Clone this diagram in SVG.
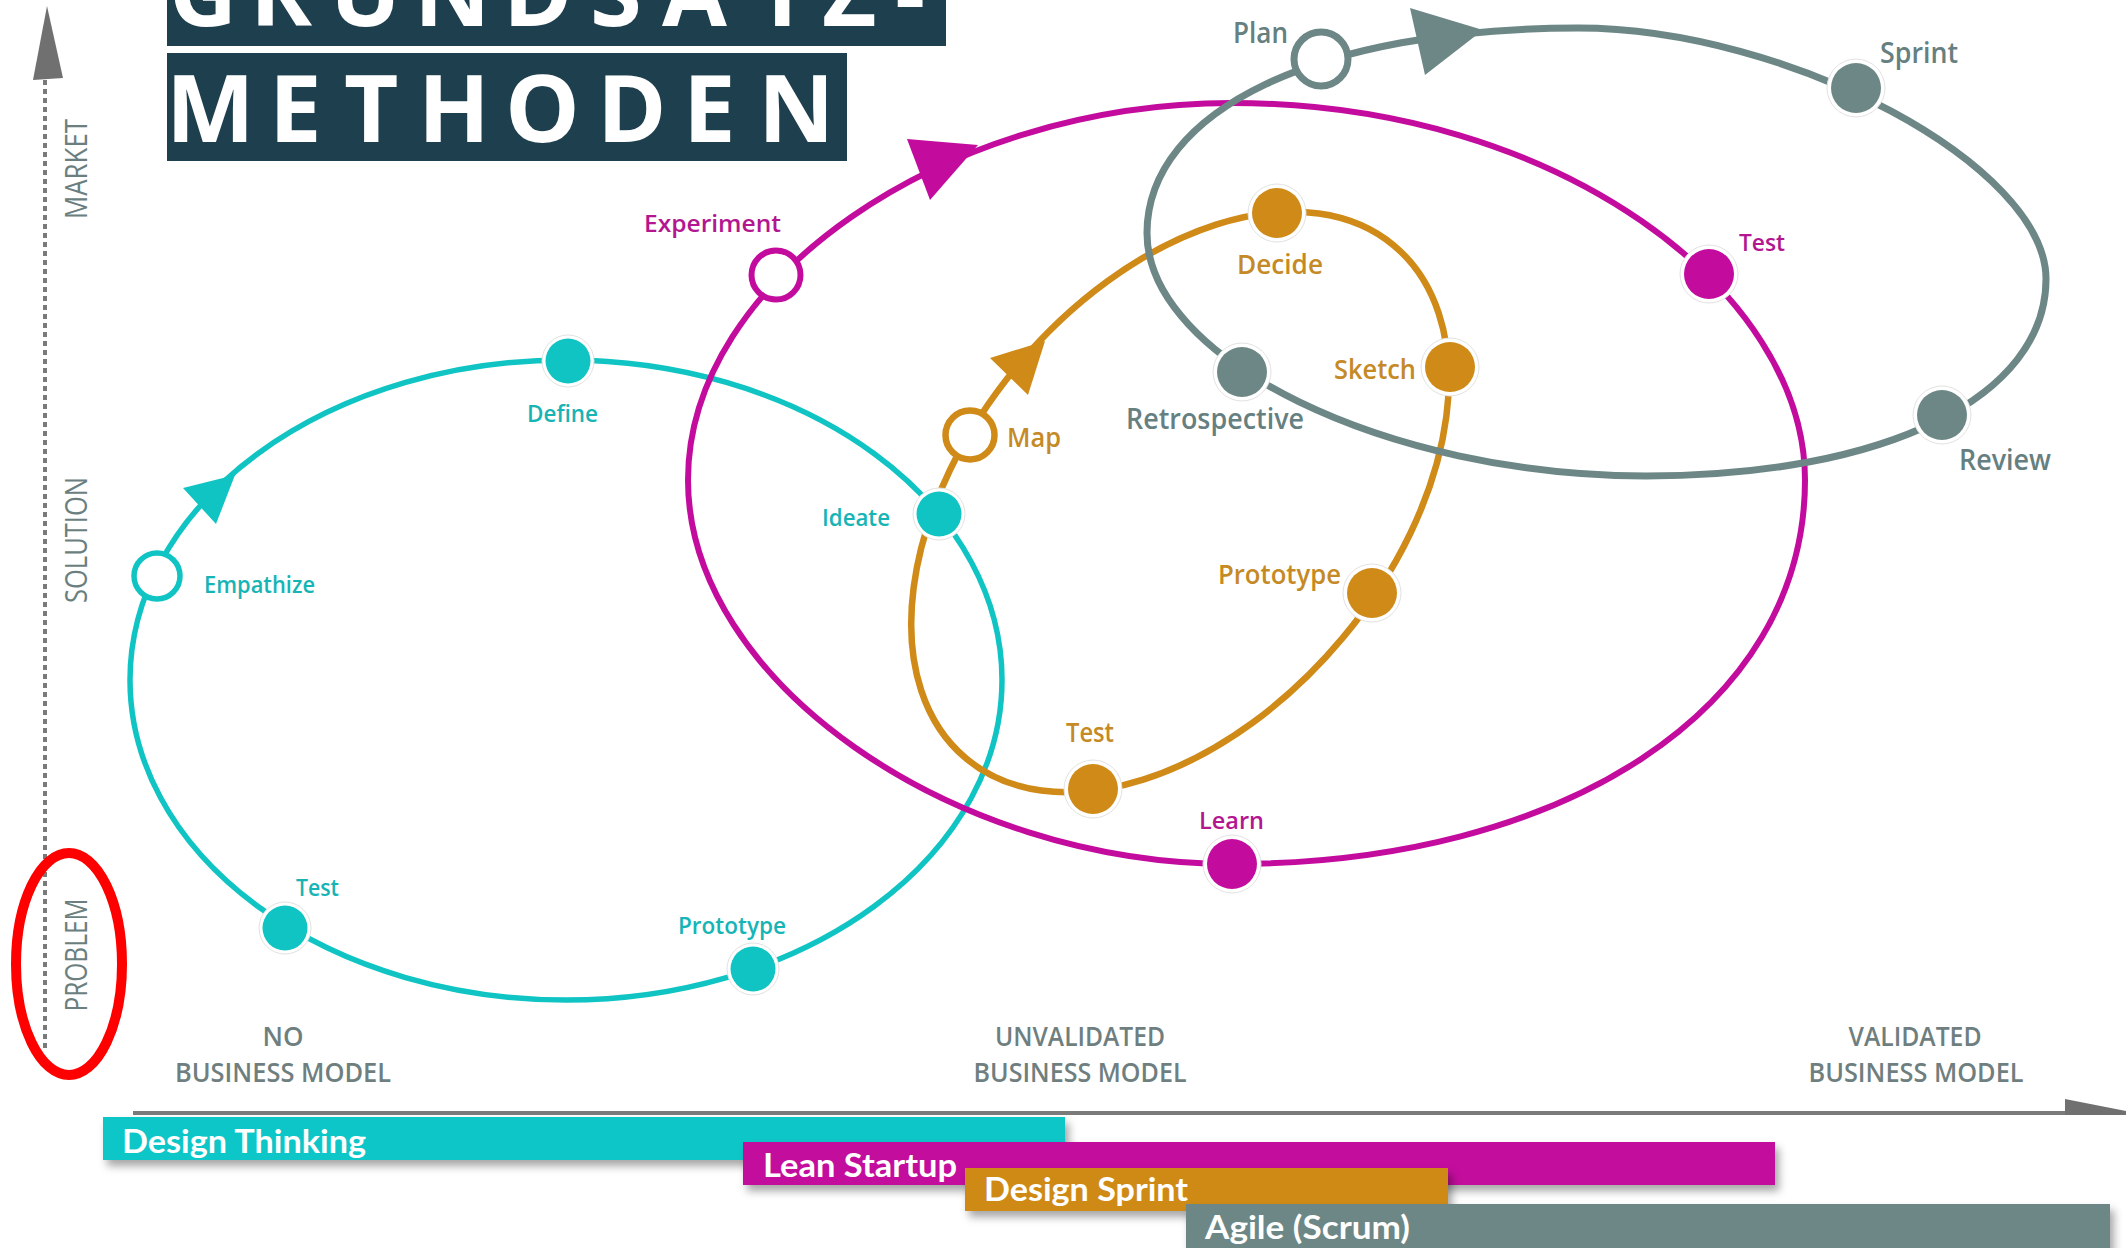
<svg xmlns="http://www.w3.org/2000/svg" width="2126" height="1248" viewBox="0 0 2126 1248">
<defs>
<style>
.loop{fill:none}
.cy{stroke:#10c4c4;stroke-width:5.5}
.mg{stroke:#c30c9d;stroke-width:6}
.or{stroke:#cf8a18;stroke-width:6.5}
.gr{stroke:#6d8787;stroke-width:7}
.fcy{fill:#10c4c4}
.fmg{fill:#c30c9d}
.for{fill:#cf8a18}
.fgr{fill:#6d8787}
.halo{fill:#fff;stroke:#e2e2e2;stroke-width:1}
.open{fill:#fff}
.lbl{font-family:"Open Sans","Liberation Sans",sans-serif;font-weight:600}
.tcy{fill:#17b4b6;font-size:24px}
.tmg{fill:#b3168f;font-size:24px}
.tor{fill:#c58a26;font-size:27px}
.tgr{fill:#667f80;font-size:29px}
.axl{font-family:"Open Sans","Liberation Sans",sans-serif;font-weight:600;fill:#6f7f80;font-size:27px}
.vax{font-family:"Open Sans","Liberation Sans",sans-serif;font-weight:500;fill:#6b7f80;font-size:31px}
.bart{font-family:Lato,"Liberation Sans",sans-serif;font-weight:700;fill:#fff;font-size:33px}
.title{font-family:"Open Sans","Liberation Sans",sans-serif;font-weight:700;fill:#fff;font-size:94px}
.tbox{fill:#1e3f4e}
</style>
<filter id="sh" x="-5%" y="-30%" width="110%" height="180%">
<feDropShadow dx="4" dy="6" stdDeviation="4" flood-color="#000" flood-opacity="0.35"/>
</filter>
</defs>
<rect x="0" y="0" width="2126" height="1248" fill="#fff"/>

<g id="title">
<rect class="tbox" x="167" y="0" width="779" height="46"/>
<rect class="tbox" x="167" y="53" width="680" height="108"/>
<text class="title" x="169 250 330 414 503 590 662 755 822 895" y="26">GRUNDSATZ-</text>
<text class="title" x="166 269 344 418 505 597 683 758" y="142">METHODEN</text>
</g>

<g id="axes">
<line x1="45" y1="80" x2="45" y2="1052" stroke="#7a7a7a" stroke-width="4" stroke-dasharray="5 4"/>
<polygon points="47,6 33,80 63,78" fill="#707070"/>
<line x1="133" y1="1113" x2="2066" y2="1113" stroke="#7a7a7a" stroke-width="4"/>
<polygon points="2065,1099 2126,1111 2126,1115 2065,1115" fill="#707070"/>
<text class="vax" transform="translate(87,169) rotate(-90)" text-anchor="middle" textLength="100" lengthAdjust="spacingAndGlyphs">MARKET</text>
<text class="vax" transform="translate(87,540) rotate(-90)" text-anchor="middle" textLength="126" lengthAdjust="spacingAndGlyphs">SOLUTION</text>
<text class="vax" transform="translate(87,955) rotate(-90)" text-anchor="middle" textLength="113" lengthAdjust="spacingAndGlyphs">PROBLEM</text>
<ellipse cx="69" cy="964" rx="53" ry="111" fill="none" stroke="#ff0000" stroke-width="10"/>
<text class="axl" x="283" y="1046" text-anchor="middle" textLength="41" lengthAdjust="spacingAndGlyphs">NO</text>
<text class="axl" x="283" y="1082" text-anchor="middle" textLength="216" lengthAdjust="spacingAndGlyphs">BUSINESS MODEL</text>
<text class="axl" x="1080" y="1046" text-anchor="middle" textLength="170" lengthAdjust="spacingAndGlyphs">UNVALIDATED</text>
<text class="axl" x="1080" y="1082" text-anchor="middle" textLength="213" lengthAdjust="spacingAndGlyphs">BUSINESS MODEL</text>
<text class="axl" x="1915" y="1046" text-anchor="middle" textLength="133" lengthAdjust="spacingAndGlyphs">VALIDATED</text>
<text class="axl" x="1916" y="1082" text-anchor="middle" textLength="215" lengthAdjust="spacingAndGlyphs">BUSINESS MODEL</text>
</g>

<g id="bars">
<g id="bar-design-thinking">
<rect x="103" y="1117" width="962" height="43" fill="#0fc6c8" filter="url(#sh)"/>
<text class="bart" x="122" y="1153" textLength="244" lengthAdjust="spacingAndGlyphs">Design Thinking</text>
</g>
<g id="bar-lean-startup">
<rect x="743" y="1142" width="1032" height="43" fill="#c30c9d" filter="url(#sh)"/>
<text class="bart" x="763" y="1177" textLength="194" lengthAdjust="spacingAndGlyphs">Lean Startup</text>
</g>
<g id="bar-design-sprint">
<rect x="965" y="1168" width="483" height="43" fill="#cf8a17" filter="url(#sh)"/>
<text class="bart" x="984" y="1201" textLength="204" lengthAdjust="spacingAndGlyphs">Design Sprint</text>
</g>
<g id="bar-agile">
<rect x="1186" y="1204" width="924" height="50" fill="#6d8786" filter="url(#sh)"/>
<text class="bart" x="1205" y="1239" textLength="205" lengthAdjust="spacingAndGlyphs">Agile (Scrum)</text>
</g>
</g>

<g id="connectors">
<ellipse class="loop cy" cx="566" cy="680" rx="436" ry="320"/>
<polygon class="fcy" points="235,475 183,488 216,524"/>
<path class="loop mg" d="M688,480 C688,280 944,103 1232,103 C1559,103 1805,291.5 1805,480 C1805,710 1562,864 1232,864 C950,864 688,680 688,480 Z"/>
<polygon class="fmg" points="978,145 907,139 930,200"/>
<ellipse class="loop or" cx="1180" cy="502" rx="334" ry="212" transform="rotate(-50.2 1180 502)"/>
<polygon class="for" points="1045,341 990,358 1028,395"/>
<path class="loop gr" d="M1147,233 C1147,110 1319,28 1578,28 C1789,28 2046,166 2046,279 C2046,397 1886,476 1646,476 C1386.5,476 1147,359.4 1147,233 Z"/>
<polygon class="fgr" points="1483,30 1410,8 1425,75"/>
</g>

<g id="dt-empathize">
<circle class="open cy" cx="157" cy="576" r="23" stroke-width="4"/>
<text class="lbl tcy" x="204" y="593" textLength="111" lengthAdjust="spacingAndGlyphs">Empathize</text>
</g>
<g id="dt-define">
<circle class="halo" cx="568" cy="361" r="26"/>
<circle class="fcy" cx="568" cy="361" r="22.5"/>
<text class="lbl tcy" x="527" y="422" textLength="71" lengthAdjust="spacingAndGlyphs">Define</text>
</g>
<g id="dt-ideate">
<circle class="halo" cx="939" cy="514" r="26"/>
<circle class="fcy" cx="939" cy="514" r="22.5"/>
<text class="lbl tcy" x="822" y="526" textLength="68" lengthAdjust="spacingAndGlyphs">Ideate</text>
</g>
<g id="dt-prototype">
<circle class="halo" cx="753" cy="969" r="26"/>
<circle class="fcy" cx="753" cy="969" r="22.5"/>
<text class="lbl tcy" x="678" y="934" textLength="108" lengthAdjust="spacingAndGlyphs">Prototype</text>
</g>
<g id="dt-test">
<circle class="halo" cx="285" cy="928" r="26"/>
<circle class="fcy" cx="285" cy="928" r="22.5"/>
<text class="lbl tcy" x="296" y="896" textLength="43" lengthAdjust="spacingAndGlyphs">Test</text>
</g>

<g id="ls-experiment">
<circle class="open mg" cx="776" cy="275" r="24.5" stroke-width="5"/>
<text class="lbl tmg" x="644" y="232" textLength="137" lengthAdjust="spacingAndGlyphs">Experiment</text>
</g>
<g id="ls-test">
<circle class="halo" cx="1709" cy="274" r="29"/>
<circle class="fmg" cx="1709" cy="274" r="25"/>
<text class="lbl tmg" x="1739" y="251" textLength="46" lengthAdjust="spacingAndGlyphs">Test</text>
</g>
<g id="ls-learn">
<circle class="halo" cx="1232" cy="864" r="29"/>
<circle class="fmg" cx="1232" cy="864" r="25"/>
<text class="lbl tmg" x="1199" y="829" textLength="65" lengthAdjust="spacingAndGlyphs">Learn</text>
</g>

<g id="ds-map">
<circle class="open or" cx="970" cy="435" r="24.5" stroke-width="4.5"/>
<text class="lbl tor" x="1007" y="447" textLength="54" lengthAdjust="spacingAndGlyphs">Map</text>
</g>
<g id="ds-decide">
<circle class="halo" cx="1277" cy="213" r="29"/>
<circle class="for" cx="1277" cy="213" r="25"/>
<text class="lbl tor" x="1237" y="274" textLength="86" lengthAdjust="spacingAndGlyphs">Decide</text>
</g>
<g id="ds-sketch">
<circle class="halo" cx="1450" cy="367" r="29"/>
<circle class="for" cx="1450" cy="367" r="25"/>
<text class="lbl tor" x="1334" y="379" textLength="82" lengthAdjust="spacingAndGlyphs">Sketch</text>
</g>
<g id="ds-prototype">
<circle class="halo" cx="1372" cy="593" r="29"/>
<circle class="for" cx="1372" cy="593" r="25"/>
<text class="lbl tor" x="1218" y="584" textLength="123" lengthAdjust="spacingAndGlyphs">Prototype</text>
</g>
<g id="ds-test">
<circle class="halo" cx="1093" cy="789" r="29"/>
<circle class="for" cx="1093" cy="789" r="25"/>
<text class="lbl tor" x="1066" y="742" textLength="48" lengthAdjust="spacingAndGlyphs">Test</text>
</g>

<g id="ag-plan">
<circle class="open gr" cx="1321" cy="59" r="27" stroke-width="5"/>
<text class="lbl tgr" x="1233" y="43" textLength="55" lengthAdjust="spacingAndGlyphs">Plan</text>
</g>
<g id="ag-sprint">
<circle class="halo" cx="1856" cy="88" r="29"/>
<circle class="fgr" cx="1856" cy="88" r="25"/>
<text class="lbl tgr" x="1880" y="63" textLength="78" lengthAdjust="spacingAndGlyphs">Sprint</text>
</g>
<g id="ag-review">
<circle class="halo" cx="1942" cy="415" r="29"/>
<circle class="fgr" cx="1942" cy="415" r="25"/>
<text class="lbl tgr" x="1959" y="470" textLength="92" lengthAdjust="spacingAndGlyphs">Review</text>
</g>
<g id="ag-retrospective">
<circle class="halo" cx="1242" cy="372" r="29"/>
<circle class="fgr" cx="1242" cy="372" r="25"/>
<text class="lbl tgr" x="1126" y="429" textLength="178" lengthAdjust="spacingAndGlyphs">Retrospective</text>
</g>
</svg>
